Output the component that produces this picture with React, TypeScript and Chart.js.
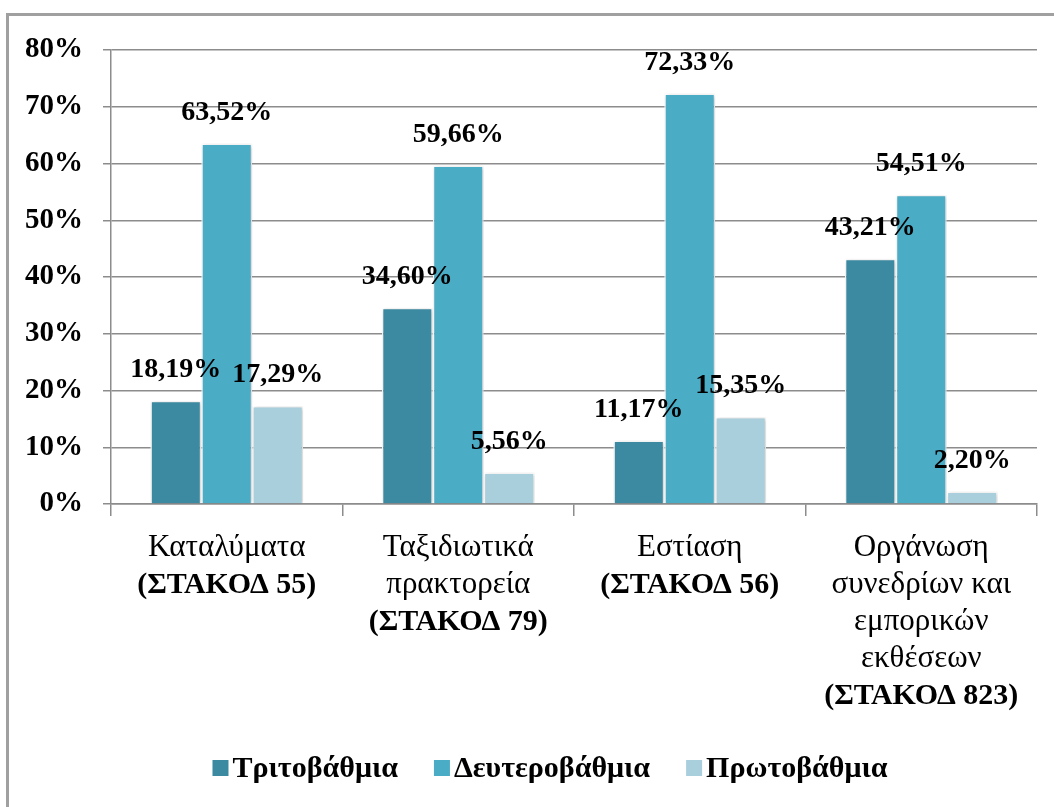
import React, { useEffect, useRef } from "react";
import { Chart, registerables } from "chart.js";

Chart.register(...registerables);

const categories: string[][] = [
  ["Καταλύματα", "(ΣΤΑΚΟΔ 55)"],
  ["Ταξιδιωτικά", "πρακτορεία", "(ΣΤΑΚΟΔ 79)"],
  ["Εστίαση", "(ΣΤΑΚΟΔ 56)"],
  ["Οργάνωση", "συνεδρίων και", "εμπορικών", "εκθέσεων", "(ΣΤΑΚΟΔ 823)"],
];
const seriesNames = ["Τριτοβάθμια", "Δευτεροβάθμια", "Πρωτοβάθμια"];
const tertiary = [18.19, 34.6, 11.17, 43.21];
const secondary = [63.52, 59.66, 72.33, 54.51];
const primary = [17.29, 5.56, 15.35, 2.2];
const yMin = 0;
const yMax = 80;
const yStep = 10;
const seriesColors = ["#3C8AA1", "#4BACC6", "#A9CFDD"];

const FONT = "'Liberation Serif', 'Times New Roman', serif";
const fmt = (v: number) => v.toFixed(2).replace(".", ",") + "%";

const shadowPlugin = {
  id: "barShadow",
  beforeDatasetsDraw(chart: any) {
    const ctx = chart.ctx;
    ctx.save();
    ctx.shadowColor = "rgba(0,0,0,0.22)";
    ctx.shadowBlur = 4;
    ctx.shadowOffsetX = 1;
    ctx.shadowOffsetY = 1;
  },
  afterDatasetsDraw(chart: any) {
    chart.ctx.restore();
  },
};

const labelsPlugin = {
  id: "customLabels",
  afterDraw(chart: any) {
    const ctx = chart.ctx;
    const xScale = chart.scales.x;
    const area = chart.chartArea;
    ctx.save();
    ctx.fillStyle = "#000";
    ctx.textAlign = "center";
    ctx.textBaseline = "middle";

    // data labels
    ctx.font = `bold 28px ${FONT}`;
    chart.data.datasets.forEach((ds: any, di: number) => {
      const meta = chart.getDatasetMeta(di);
      meta.data.forEach((bar: any, i: number) => {
        ctx.fillText(fmt(ds.data[i]), bar.x, bar.y - 31);
      });
    });

    // category labels
    categories.forEach((lines, i) => {
      const x = xScale.getPixelForValue(i);
      lines.forEach((line, li) => {
        const bold = line.startsWith("(");
        ctx.font = bold ? `bold 30px ${FONT}` : `31px ${FONT}`;
        ctx.fillText(line, x, area.bottom + 44 + li * 37);
      });
    });

    // legend
    ctx.font = `bold 30px ${FONT}`;
    const box = 16;
    const gapIn = 4;
    const gapOut = 36;
    const widths = seriesNames.map((n) => ctx.measureText(n).width);
    const total =
      widths.reduce((a, b) => a + b, 0) +
      seriesNames.length * (box + gapIn) +
      (seriesNames.length - 1) * gapOut;
    let x = (area.left + area.right) / 2 - 24 - total / 2;
    const yc = 768;
    seriesNames.forEach((n, i) => {
      ctx.fillStyle = "#ffffff";
      ctx.fillRect(x - 1, yc - box / 2 - 1, box + 2, box + 2);
      ctx.fillStyle = seriesColors[i];
      ctx.fillRect(x, yc - box / 2, box, box);
      ctx.fillStyle = "#000";
      ctx.textAlign = "left";
      ctx.fillText(n, x + box + gapIn, yc + 1);
      x += box + gapIn + widths[i] + gapOut;
    });
    ctx.restore();
  },
};

export default function App() {
  const ref = useRef<HTMLCanvasElement | null>(null);

  useEffect(() => {
    if (!ref.current) return;
    const gridColor = "#8c8c8c";
    const chart = new Chart(ref.current, {
      type: "bar",
      data: {
        labels: categories.map((c) => c.join(" ")),
        datasets: [
          { label: seriesNames[0], data: tertiary, backgroundColor: seriesColors[0] },
          { label: seriesNames[1], data: secondary, backgroundColor: seriesColors[1] },
          { label: seriesNames[2], data: primary, backgroundColor: seriesColors[2] },
        ].map((d) => ({
          ...d,
          borderColor: "#ffffff",
          borderWidth: 1.5,
          categoryPercentage: 0.66,
          barPercentage: 1,
        })),
      },
      options: {
        animation: false,
        responsive: false,
        events: [],
        layout: { padding: { left: 0, right: 17, top: 50, bottom: 0 } },
        plugins: {
          legend: { display: false },
          tooltip: { enabled: false },
        },
        scales: {
          x: {
            grid: {
              offset: true,
              drawOnChartArea: false,
              drawTicks: true,
              tickLength: 12,
              color: gridColor,
              lineWidth: 1.5,
            },
            border: { display: true, color: gridColor, width: 1.5 },
            ticks: { display: false },
            afterFit: (scale: any) => {
              scale.height = 303;
            },
          },
          y: {
            min: yMin,
            max: yMax,
            ticks: {
              stepSize: yStep,
              padding: 20,
              color: "#000",
              font: { family: FONT, size: 29, weight: "bold" },
              callback: (v: any) => v + "%",
            },
            grid: {
              color: gridColor,
              lineWidth: 1.5,
              tickLength: 8,
              drawTicks: true,
            },
            border: { display: true, color: gridColor, width: 1.5 },
            afterFit: (scale: any) => {
              scale.width = 111;
            },
          },
        },
      },
      plugins: [shadowPlugin, labelsPlugin],
    } as any);
    return () => chart.destroy();
  }, []);

  return (
    <div
      style={{
        position: "fixed",
        left: 0,
        top: 0,
        width: 1054,
        height: 807,
        overflow: "hidden",
        background: "#ffffff",
      }}
    >
      <div
        style={{
          position: "absolute",
          left: 6,
          top: 13,
          width: 1200,
          height: 1000,
          borderLeft: "3px solid #a0a0a0",
          borderTop: "3px solid #a0a0a0",
        }}
      />
      <canvas
        ref={ref}
        width={1054}
        height={807}
        style={{ position: "absolute", left: 0, top: 0, width: 1054, height: 807 }}
      />
    </div>
  );
}
